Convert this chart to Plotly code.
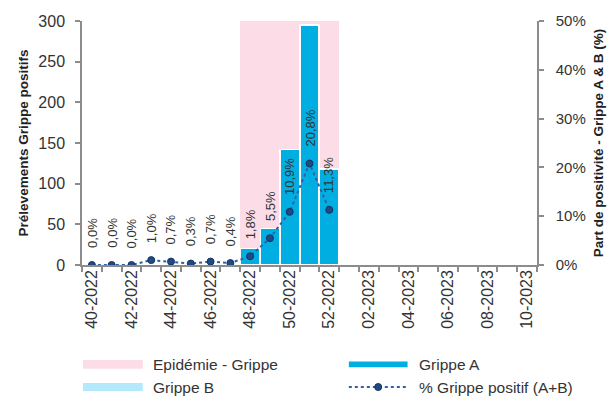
import plotly.graph_objects as go

# Weekly categories shown on the x axis (season 2022-2023)
weeks = [
    "40-2022", "41-2022", "42-2022", "43-2022", "44-2022", "45-2022", "46-2022",
    "47-2022", "48-2022", "49-2022", "50-2022", "51-2022", "52-2022",
    "01-2023", "02-2023", "03-2023", "04-2023", "05-2023", "06-2023",
    "07-2023", "08-2023", "09-2023", "10-2023",
]
week_tick_labels = [
    "40-2022", "", "42-2022", "", "44-2022", "", "46-2022", "", "48-2022", "",
    "50-2022", "", "52-2022", "", "02-2023", "", "04-2023", "", "06-2023", "",
    "08-2023", "", "10-2023",
]

# Reported weeks so far
reported_weeks = weeks[:13]
grippe_a = [0, 0, 0, 1, 1, 0, 1, 1, 20, 45, 142, 295, 118]
grippe_b = [0, 0, 0, 0, 0, 1, 0, 0, 0, 0, 0, 0, 0]
pct_positif = [0.0, 0.0, 0.0, 1.0, 0.7, 0.3, 0.7, 0.4, 1.8, 5.5, 10.9, 20.8, 11.3]

# Weeks flagged as epidemic period
epidemic_weeks = ["48-2022", "49-2022", "50-2022", "51-2022", "52-2022"]

COUNT_MAX = 300
PCT_MAX = 50

FONT = "Liberation Sans, Arial, sans-serif"
C_A = "#00AEE2"
C_B = "#B3E9FA"
C_EPI = "#FBDCE7"
C_LINE = "#2F5FA8"
C_MARK = "#1F4A86"
C_AXIS = "#8C8C8C"
C_TEXT = "#333333"

W, H = 616, 399
L, R, T, B = 82, 77, 17, 134
PW, PH = W - L - R, H - T - B


def px_x(px):
    return (px - L) / PW


def px_y(py):
    return (H - B - py) / PH


fig = go.Figure()

# Epidemic period band (full height of the count axis)
fig.add_trace(go.Bar(
    x=epidemic_weeks, y=[COUNT_MAX] * len(epidemic_weeks),
    width=1.0, marker=dict(color=C_EPI, line=dict(width=0)),
    name="Epidémie - Grippe", yaxis="y", showlegend=False, hoverinfo="skip",
))

# Positive samples, stacked A + B
fig.add_trace(go.Bar(
    x=reported_weeks, y=grippe_a, name="Grippe A", yaxis="y2",
    width=0.97, marker=dict(color=C_A, line=dict(color="white", width=1.5)),
    showlegend=False,
))
fig.add_trace(go.Bar(
    x=reported_weeks, y=grippe_b, name="Grippe B", yaxis="y2",
    width=0.97, marker=dict(color=C_B, line=dict(color="white", width=1.5)),
    showlegend=False,
))

# Share of positive samples
fig.add_trace(go.Scatter(
    x=reported_weeks, y=pct_positif, name="% Grippe positif (A+B)", yaxis="y3",
    mode="lines+markers",
    line=dict(color=C_LINE, width=2, dash="dot"),
    marker=dict(size=7, color=C_MARK, line=dict(color="#143460", width=1)),
    showlegend=False,
))

annotations = []
for wk, v in zip(reported_weeks, pct_positif):
    annotations.append(dict(
        x=wk, y=v, xref="x", yref="y3",
        text=f"{v:.1f}".replace(".", ",") + "%",
        textangle=-90, showarrow=False, xanchor="center", yanchor="bottom",
        yshift=15, font=dict(family=FONT, size=13, color=C_TEXT),
    ))

# Legend drawn below the plot in two columns
shapes = []
legend_rows = [366, 389]
col1_x0, col1_x1, col1_text = 83, 143, 151
col2_x0, col2_x1, col2_text = 350, 409, 418

shapes.append(dict(type="rect", xref="paper", yref="paper",
                   x0=px_x(col1_x0), x1=px_x(col1_x1),
                   y0=px_y(legend_rows[0] + 4.5), y1=px_y(legend_rows[0] - 4.5),
                   fillcolor=C_EPI, line=dict(width=0)))
shapes.append(dict(type="rect", xref="paper", yref="paper",
                   x0=px_x(col1_x0), x1=px_x(col1_x1),
                   y0=px_y(legend_rows[1] + 4), y1=px_y(legend_rows[1] - 4),
                   fillcolor=C_B, line=dict(width=0)))
shapes.append(dict(type="rect", xref="paper", yref="paper",
                   x0=px_x(col2_x0), x1=px_x(col2_x1),
                   y0=px_y(legend_rows[0] + 3), y1=px_y(legend_rows[0] - 3),
                   fillcolor=C_A, line=dict(width=0)))
shapes.append(dict(type="line", xref="paper", yref="paper",
                   x0=px_x(col2_x0), x1=px_x(col2_x1),
                   y0=px_y(legend_rows[1]), y1=px_y(legend_rows[1]),
                   line=dict(color=C_LINE, width=2, dash="dot")))
shapes.append(dict(type="circle", xref="paper", yref="paper",
                   xsizemode="pixel", ysizemode="pixel",
                   xanchor=px_x((col2_x0 + col2_x1) / 2), yanchor=px_y(legend_rows[1]),
                   x0=-3.5, x1=3.5, y0=-3.5, y1=3.5,
                   fillcolor=C_MARK, line=dict(color="#143460", width=1)))

legend_items = [
    ("Epidémie - Grippe", col1_text, legend_rows[0]),
    ("Grippe B", col1_text, legend_rows[1]),
    ("Grippe A", col2_text, legend_rows[0]),
    ("% Grippe positif (A+B)", col2_text, legend_rows[1]),
]
for label, lx, ly in legend_items:
    annotations.append(dict(
        x=px_x(lx), y=px_y(ly), xref="paper", yref="paper", text=label,
        showarrow=False, xanchor="left", yanchor="middle",
        font=dict(family=FONT, size=15.5, color=C_TEXT),
    ))

fig.update_layout(
    width=W, height=H,
    margin=dict(l=L, r=R, t=T, b=B),
    paper_bgcolor="white", plot_bgcolor="white",
    barmode="stack", bargap=0.03,
    font=dict(family=FONT, size=15, color=C_TEXT),
    showlegend=False,
    xaxis=dict(
        type="category", categoryorder="array", categoryarray=weeks,
        range=[-0.5, len(weeks) - 0.5],
        tickmode="array", tickvals=weeks, ticktext=week_tick_labels,
        tickangle=-90, ticks="outside", ticklen=5, tickwidth=1.5,
        tickcolor=C_AXIS, tickson="boundaries", ticklabelstandoff=-3,
        showline=True, linecolor=C_AXIS, linewidth=1.5,
        showgrid=False, zeroline=False,
        tickfont=dict(family=FONT, size=16, color=C_TEXT),
    ),
    yaxis=dict(
        range=[0, COUNT_MAX], dtick=50, ticks="outside", ticklen=5, tickwidth=1.5,
        tickcolor=C_AXIS, showline=True, linecolor=C_AXIS, linewidth=1.5,
        showgrid=False, zeroline=False, ticklabelstandoff=7,
        tickfont=dict(family=FONT, size=16, color=C_TEXT),
        title=dict(text="<b>Prélevements Grippe positifs</b>", standoff=7,
                   font=dict(family=FONT, size=13.5, color="#222222")),
    ),
    yaxis2=dict(
        range=[0, COUNT_MAX], overlaying="y", visible=False,
    ),
    yaxis3=dict(
        range=[0, PCT_MAX], dtick=10, ticksuffix="%", overlaying="y", side="right",
        ticks="outside", ticklen=5, tickwidth=1.5, tickcolor=C_AXIS,
        showline=True, linecolor=C_AXIS, linewidth=1.5,
        showgrid=False, zeroline=False, ticklabelstandoff=9,
        tickfont=dict(family=FONT, size=15, color=C_TEXT),
        title=dict(text="<b>Part de positivité - Grippe A & B (%)</b>", standoff=9,
                   font=dict(family=FONT, size=13.5, color="#222222")),
    ),
    annotations=annotations,
    shapes=shapes,
)

fig.write_html("out.html")
